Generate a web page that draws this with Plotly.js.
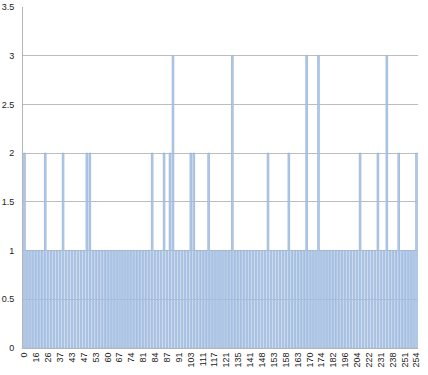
<!DOCTYPE html>
<html>
<head>
<meta charset="utf-8">
<script src="https://cdn.plot.ly/plotly-3.0.1.min.js"></script>
<style>html,body{margin:0;padding:0;background:#fff;}#chart{width:428px;height:375px;}</style>
</head>
<body>
<div id="chart"></div>
<script>
// Tick labels shown under every 4th category
var tickLabels = ["0","16","26","37","43","47","53","60","67","74","81","84","87","91",
  "103","111","117","121","135","141","148","153","158","163","170","174","182","196",
  "204","222","231","238","251","254"];

// Bar values, one per category (133 categories)
var values = [
  2,1,1,1,1,1,1,2,1,1,
  1,1,1,2,1,1,1,1,1,1,
  1,2,2,1,1,1,1,1,1,1,
  1,1,1,1,1,1,1,1,1,1,
  1,1,1,2,1,1,1,2,1,2,
  3,1,1,1,1,1,2,2,1,1,
  1,1,2,1,1,1,1,1,1,1,
  3,1,1,1,1,1,1,1,1,1,
  1,1,2,1,1,1,1,1,1,2,
  1,1,1,1,1,3,1,1,1,3,
  1,1,1,1,1,1,1,1,1,1,
  1,1,1,2,1,1,1,1,1,2,
  1,1,3,1,1,1,2,1,1,1,
  1,1,2
];

var xIdx = values.map(function(_, i){ return i; });
var tickVals = tickLabels.map(function(_, k){ return k * 4; });

var trace = {
  type: 'bar',
  x: xIdx,
  y: values,
  marker: { color: '#b9cfea', line: { color: '#96b3da', width: 0.8 } },
  hoverinfo: 'x+y'
};

var layout = {
  width: 428, height: 375,
  margin: { l: 23, r: 10, t: 7, b: 27, pad: 0 },
  paper_bgcolor: '#ffffff', plot_bgcolor: '#ffffff',
  bargap: 0.45,
  showlegend: false,
  font: { family: 'Liberation Sans, Arial, sans-serif', size: 9, color: '#222' },
  xaxis: {
    range: [-0.5, values.length - 0.5],
    tickmode: 'array', tickvals: tickVals, ticktext: tickLabels,
    tickangle: -90, ticks: '', showgrid: false, zeroline: false,
    showline: true, linecolor: '#b5b5b5', linewidth: 1,
    tickfont: { size: 9, color: '#222' }, automargin: false
  },
  yaxis: {
    range: [0, 3.5], dtick: 0.5, tick0: 0,
    showgrid: true, gridcolor: '#bdbdbd', gridwidth: 1,
    zeroline: false, showline: true, linecolor: '#b5b5b5', linewidth: 1,
    ticks: '', ticklabelstandoff: 6,
    tickfont: { size: 9, color: '#222' }, automargin: false
  }
};

Plotly.newPlot('chart', [trace], layout, { staticPlot: true, displayModeBar: false });
</script>
</body>
</html>
